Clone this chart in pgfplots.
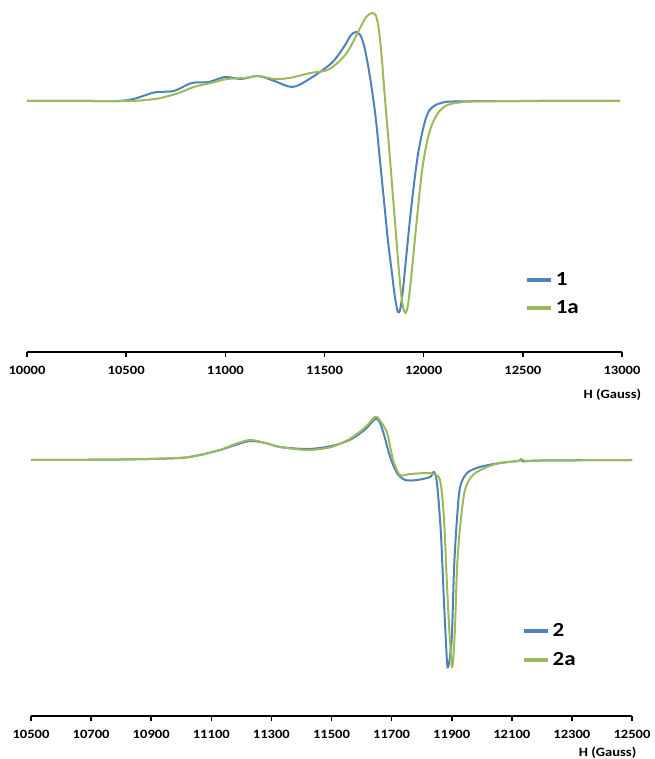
\documentclass[border=0pt]{standalone}
\usepackage{fontspec}
\setmainfont[FakeStretch=1.15]{Carlito}
\usepackage{pgfplots}
\pgfplotsset{compat=1.18}
\definecolor{eblue}{HTML}{4F81BD}
\definecolor{egreen}{HTML}{9BBB59}
\pgfplotsset{
  eprstyle/.style={
    scale only axis,
    axis x line=bottom,
    axis y line=none,
    axis line style={-, line width=1.5pt, black},
    tick align=outside,
    major tick length=4pt,
    tick style={line width=1.2pt, black},
    scaled x ticks=false,
    xticklabel={\pgfmathprintnumber[fixed, precision=0, set thousands separator={}]{\tick}},
    x tick label style={font=\fontsize{9.5}{10}\selectfont\bfseries, yshift=-3pt},
    /pgf/number format/.cd, set thousands separator={}, assume math mode=true,
    /pgfplots/.cd,
    legend style={draw=none, fill=none, font=\fontsize{15}{16}\selectfont\bfseries, row sep=6pt, anchor=north west},
    legend cell align=left,
    legend image code/.code={\draw[line width=3pt, #1] (0pt,0pt) -- (18pt,0pt);},
    every axis plot/.append style={line width=1.5pt, smooth, tension=0.5},
    clip=false,
  }
}
\begin{document}
\begin{tikzpicture}
\useasboundingbox (0,0) rectangle (490.5pt,569.25pt);
% ---------- top panel ----------
\begin{axis}[eprstyle,
  at={(20.25pt,305.25pt)}, anchor=south west,
  width=446.25pt, height=260.25pt,
  xmin=10000, xmax=13000, ymin=-251, ymax=96,
  xtick={10000,10500,...,13000},
  legend style={at={(0.83,0.245)}},
]
\addplot[eblue] coordinates {
(10000,0) (10300,0) (10461,0) (10537,2) (10600,6) (10654,9) (10740,10) (10831,18) (10917,19)
(10998,24) (11080,22) (11166,25) (11247,20) (11338,14) (11424,22) (11536,38) (11601,55)
(11630,65) (11657,69) (11680,66) (11700,55) (11720,35) (11740,10) (11760,-20) (11780,-60)
(11800,-100) (11820,-140) (11840,-172) (11855,-196) (11870,-211) (11882,-208) (11895,-190)
(11910,-160) (11930,-120) (11950,-85) (11970,-55) (11990,-34) (12010,-18) (12030,-9)
(12060,-4) (12090,-2) (12150,-0.5) (12500,0) (12990,0)
};
\addlegendentry{1}
\addplot[egreen] coordinates {
(10000,0) (10300,0) (10512,0) (10600,1) (10674,3) (10765,8) (10841,14) (10927,18) (11009,22)
(11095,23) (11166,25) (11247,22) (11323,23) (11429,28) (11515,31) (11576,40) (11622,51)
(11677,72) (11710,84) (11740,88) (11760,85) (11775,70) (11790,40) (11805,2) (11825,-45)
(11845,-95) (11865,-145) (11882,-185) (11895,-205) (11908,-212) (11920,-205) (11935,-180)
(11955,-140) (11975,-100) (11995,-65) (12020,-38) (12045,-22) (12080,-10) (12120,-4)
(12180,-1.5) (12250,-0.5) (12600,0) (12990,0)
};
\addlegendentry{1a}
\node[font=\fontsize{9.5}{10}\selectfont\bfseries, anchor=north east] at (axis cs:13120,-251) [yshift=-24pt] {H (Gauss)};
\end{axis}
% ---------- bottom panel ----------
\begin{axis}[eprstyle,
  at={(23.25pt,32.25pt)}, anchor=south west,
  width=450.75pt, height=233.25pt,
  xmin=10500, xmax=12500, ymin=-256, ymax=55,
  xtick={10500,10700,...,12500},
  legend style={at={(0.81,0.315)}},
]
\addplot[eblue] coordinates {
(10500,0) (10800,0.5) (10993,2) (11062,5) (11129,10) (11180,15) (11229,19) (11280,17)
(11329,13) (11422,11) (11500,14) (11560,20) (11610,30) (11645,41) (11660,38) (11675,25)
(11695,3) (11718,-13) (11745,-20) (11785,-20) (11828,-17) (11841,-12) (11851,-23) (11864,-73)
(11874,-140) (11884,-200) (11888,-207) (11895,-195) (11901,-173) (11908,-107) (11918,-57) (11928,-27)
(11951,-13) (11994,-7) (12061,-3) (12120,-1) (12131,0) (12140,-1.5) (12200,-0.5) (12500,0)
};
\addlegendentry{2}
\addplot[egreen] coordinates {
(10500,0) (10800,0.5) (10993,2) (11062,5) (11129,10) (11180,16) (11229,20) (11280,17)
(11329,13) (11422,10) (11500,13) (11560,21) (11610,32) (11645,43) (11660,40) (11685,27) (11705,0)
(11728,-15) (11761,-14) (11818,-13) (11838,-14) (11861,-20) (11874,-57) (11884,-123)
(11894,-180) (11901,-207) (11906,-195) (11911,-167) (11918,-107) (11928,-67) (11944,-30) (11971,-15)
(12018,-7) (12061,-3) (12120,-1) (12131,1) (12145,-1) (12200,-0.5) (12500,0)
};
\addlegendentry{2a}
\node[font=\fontsize{9.5}{10}\selectfont\bfseries, anchor=north east] at (axis cs:12530,-256) [yshift=-20pt] {H (Gauss)};
\end{axis}
\end{tikzpicture}
\end{document}
